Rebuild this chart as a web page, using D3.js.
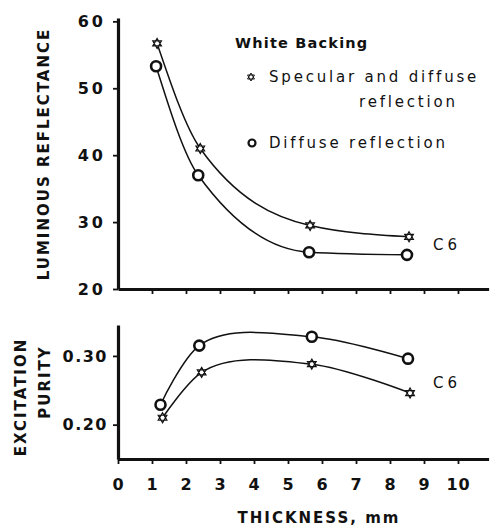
<!DOCTYPE html>
<html>
<head>
<meta charset="utf-8">
<script src="https://cdn.jsdelivr.net/npm/d3@7"></script>
<style>
  body { margin: 0; background: #fff; }
  svg text { font-family: "DejaVu Sans", sans-serif; fill: #111; }
</style>
</head>
<body>
<div id="chart"></div>
<script>
// thickness (mm) and readings
const thickStar = [1.15, 2.42, 5.65, 8.56];
const thickCircle = [1.12, 2.36, 5.62, 8.5];
const reflStar = [56.7, 41.0, 29.5, 27.8];
const reflCircle = [53.3, 37.0, 25.5, 25.1];

const purThickCircle = [1.25, 2.39, 5.7, 8.53];
const purThickStar = [1.31, 2.46, 5.7, 8.59];
const purityCircle = [0.229, 0.315, 0.328, 0.296];
const purityStar = [0.210, 0.276, 0.288, 0.246];

const reflTicks = [20, 30, 40, 50, 60];
const purityTicks = [0.20, 0.30];
const thickTicks = [0, 1, 2, 3, 4, 5, 6, 7, 8, 9, 10];

const width = 492, height = 526;
const svg = d3.select("#chart").append("svg")
    .attr("width", width)
    .attr("height", height);

const x = d3.scaleLinear().domain([0, 10.9]).range([118, 488.6]);
const yTop = d3.scaleLinear().domain([20, 60.5]).range([289, 18]);
const yBot = d3.scaleLinear().domain([0.15, 0.345]).range([459, 325]);

// six-pointed star marker
function starPath(r) {
    const p = [];
    for (let k = 0; k < 2; k++) {
        const a0 = k === 0 ? -Math.PI / 2 : Math.PI / 2;
        const pts = [0, 1, 2].map(i => {
            const a = a0 + i * 2 * Math.PI / 3;
            return [r * Math.cos(a), r * Math.sin(a)];
        });
        p.push("M" + pts.map(d => d.join(",")).join("L") + "Z");
    }
    return p.join("");
}

function styleAxis(g) {
    g.select(".domain").attr("stroke", "#111").attr("stroke-width", 3.2);
    g.selectAll(".tick line").attr("stroke", "#111").attr("stroke-width", 1.8);
    g.selectAll(".tick text")
        .style("font-size", "16px")
        .style("font-weight", "bold")
        .style("letter-spacing", "3px")
        .attr("fill", "#111");
}

// ---- top panel ----
svg.append("g")
    .attr("transform", `translate(${x(0)},0)`)
    .call(d3.axisLeft(yTop).tickValues(reflTicks).tickSize(5).tickSizeOuter(0).tickPadding(7))
    .call(styleAxis);

svg.append("g")
    .attr("transform", `translate(0,${yTop(20)})`)
    .call(d3.axisBottom(x).tickValues(thickTicks.slice(1)).tickSize(5).tickSizeOuter(0).tickFormat(""))
    .call(styleAxis);

const lineTop = (xs, ys) => d3.line()
    .x((d, i) => x(xs[i]))
    .y(d => yTop(d))
    .curve(d3.curveMonotoneX)(ys);

svg.append("path").attr("d", lineTop(thickStar, reflStar))
    .attr("fill", "none").attr("stroke", "#111").attr("stroke-width", 1.5);
svg.append("path").attr("d", lineTop(thickCircle, reflCircle))
    .attr("fill", "none").attr("stroke", "#111").attr("stroke-width", 1.5);

// ---- bottom panel ----
svg.append("g")
    .attr("transform", `translate(${x(0)},0)`)
    .call(d3.axisLeft(yBot).tickValues(purityTicks).tickSize(5).tickSizeOuter(0).tickPadding(5)
        .tickFormat(d3.format(".2f")))
    .call(styleAxis)
    .call(g => g.selectAll(".tick text").style("letter-spacing", "1.5px"));

svg.append("g")
    .attr("transform", `translate(0,${yBot(0.15)})`)
    .call(d3.axisBottom(x).tickValues(thickTicks).tickSize(5).tickSizeOuter(0).tickPadding(15)
        .tickFormat(d => d))
    .call(styleAxis)
    .call(g => g.selectAll(".tick text").style("letter-spacing", "1px"));

const lineBot = (xs, ys) => d3.line()
    .x((d, i) => x(xs[i]))
    .y(d => yBot(d))
    .curve(d3.curveCatmullRom.alpha(1))(ys);

svg.append("path").attr("d", lineBot(purThickCircle, purityCircle))
    .attr("fill", "none").attr("stroke", "#111").attr("stroke-width", 1.5);
svg.append("path").attr("d", lineBot(purThickStar, purityStar))
    .attr("fill", "none").attr("stroke", "#111").attr("stroke-width", 1.5);

// markers
function drawStars(xs, ys, yScale) {
    svg.append("g").selectAll("path")
        .data(ys)
        .join("path")
        .attr("transform", (d, i) => `translate(${x(xs[i])},${yScale(d)})`)
        .attr("d", starPath(5))
        .attr("fill", "#fff")
        .attr("stroke", "#111")
        .attr("stroke-width", 1.2);
}
function drawCircles(xs, ys, yScale) {
    svg.append("g").selectAll("circle")
        .data(ys)
        .join("circle")
        .attr("cx", (d, i) => x(xs[i]))
        .attr("cy", d => yScale(d))
        .attr("r", 5)
        .attr("fill", "#fff")
        .attr("stroke", "#111")
        .attr("stroke-width", 2.6);
}
drawStars(thickStar, reflStar, yTop);
drawCircles(thickCircle, reflCircle, yTop);
drawStars(purThickStar, purityStar, yBot);
drawCircles(purThickCircle, purityCircle, yBot);

// ---- labels ----
svg.append("text")
    .attr("transform", "translate(49,154) rotate(-90)")
    .attr("text-anchor", "middle")
    .style("font-size", "15px")
    .style("font-weight", "bold")
    .style("letter-spacing", "2px")
    .text("LUMINOUS REFLECTANCE");

svg.append("text")
    .attr("transform", "translate(26,397) rotate(-90)")
    .attr("text-anchor", "middle")
    .style("font-size", "15px")
    .style("font-weight", "bold")
    .style("letter-spacing", "2px")
    .text("EXCITATION");

svg.append("text")
    .attr("transform", "translate(50,382) rotate(-90)")
    .attr("text-anchor", "middle")
    .style("font-size", "15px")
    .style("font-weight", "bold")
    .style("letter-spacing", "2px")
    .text("PURITY");

svg.append("text")
    .attr("x", 319).attr("y", 523)
    .attr("text-anchor", "middle")
    .style("font-size", "15px")
    .style("font-weight", "bold")
    .style("letter-spacing", "2px")
    .text("THICKNESS, mm");

svg.append("text").attr("x", 433).attr("y", 250)
    .style("font-size", "15px").style("letter-spacing", "4px").text("C6");
svg.append("text").attr("x", 433).attr("y", 388)
    .style("font-size", "15px").style("letter-spacing", "4px").text("C6");

// legend
svg.append("text").attr("x", 235).attr("y", 48)
    .style("font-size", "14.5px").style("font-weight", "bold")
    .style("letter-spacing", "1.2px").text("White Backing");

svg.append("path")
    .attr("transform", "translate(251,77)")
    .attr("d", starPath(4))
    .attr("fill", "#fff").attr("stroke", "#111").attr("stroke-width", 1);
svg.append("text").attr("x", 269).attr("y", 82)
    .style("font-size", "15px").style("letter-spacing", "2.8px").text("Specular and diffuse");
svg.append("text").attr("x", 359).attr("y", 107)
    .style("font-size", "15px").style("letter-spacing", "2.8px").text("reflection");

svg.append("circle").attr("cx", 252).attr("cy", 143).attr("r", 3.5)
    .attr("fill", "#fff").attr("stroke", "#111").attr("stroke-width", 2.2);
svg.append("text").attr("x", 269).attr("y", 148)
    .style("font-size", "15px").style("letter-spacing", "2.8px").text("Diffuse reflection");
</script>
</body>
</html>
